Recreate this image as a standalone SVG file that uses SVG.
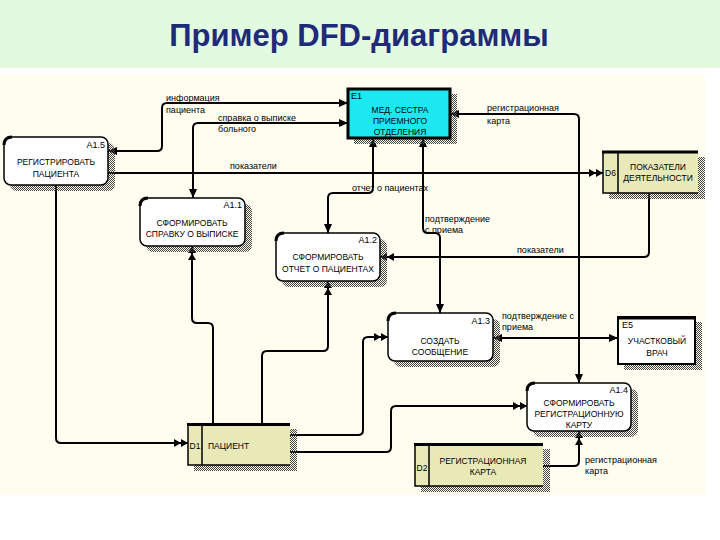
<svg xmlns="http://www.w3.org/2000/svg" width="720" height="540" viewBox="0 0 720 540">
<style>
.nl{font-family:"Liberation Sans",Arial,sans-serif;font-size:8.5px;fill:#000;text-anchor:middle}
.nls{font-family:"Liberation Sans",Arial,sans-serif;font-size:8.5px;fill:#000;text-anchor:start}
.id{font-family:"Liberation Sans",Arial,sans-serif;font-size:9px;fill:#000}
.idm{font-family:"Liberation Sans",Arial,sans-serif;font-size:8.5px;fill:#000;text-anchor:middle}
.lb{font-family:"Liberation Sans",Arial,sans-serif;font-size:9px;fill:#000}
.proc{fill:#fff;stroke:#000;stroke-width:1.5}
.sh{fill:url(#hatch)}
.store{fill:#e9e9b8;stroke:none}
.edge{stroke:#000;stroke-width:1.5;fill:none}
.thick{stroke:#000;stroke-width:3;fill:none}
.cn path{fill:none;stroke:#000;stroke-width:2}
.s1{marker-end:url(#a1)}
.s2{marker-end:url(#a2)}
.b1{marker-start:url(#a1);marker-end:url(#a1)}
</style>
<defs>
<pattern id="hatch" width="2" height="2" patternUnits="userSpaceOnUse">
<rect x="0" y="0" width="1" height="1" fill="#444"/>
<rect x="1" y="1" width="1" height="1" fill="#444"/>
</pattern>
<marker id="a1" markerUnits="userSpaceOnUse" markerWidth="10" markerHeight="8" refX="9" refY="4" orient="auto-start-reverse">
<path d="M0,0 L9,4 L0,8 z" fill="#000"/>
</marker>
<marker id="a2" markerUnits="userSpaceOnUse" markerWidth="15" markerHeight="8" refX="14" refY="4" orient="auto-start-reverse">
<path d="M0,0 L7,4 L0,8 z M7,0 L14,4 L7,8 z" fill="#000"/>
</marker>
</defs>
<rect x="0" y="0" width="720" height="540" fill="#fff"/>
<rect x="0" y="0" width="720" height="68" fill="#e2fbe0"/>
<text x="359" y="46" font-family="'Liberation Sans',Arial,sans-serif" font-size="31" font-weight="bold" fill="#1f2a78" text-anchor="middle">Пример DFD-диаграммы</text>
<rect x="0" y="74" width="705" height="421" fill="#fffdf0"/>

<g id="connectors" class="cn">
<path class="b1" d="M108,151 H157 Q162,151 162,146 V108 Q162,103 167,103 H348"/>
<path class="b1" d="M348,123 H198 Q193,123 193,128 V198"/>
<path class="s2" d="M108,173 H603"/>
<path class="s2" d="M56,185 V438 Q56,443 61,443 H188"/>
<path class="s2" d="M213,424 V328 Q213,323 208,323 H197 Q192,323 192,318 V246"/>
<path class="s2" d="M262,424 V356 Q262,351 267,351 H323 Q328,351 328,346 V281"/>
<path class="b1" d="M373,138 V188 Q373,193 368,193 H333 Q328,193 328,198 V233"/>
<path class="b1" d="M423,138 V228 Q423,233 428,233 H435 Q440,233 440,238 V313"/>
<path class="b1" d="M450,114 H574 Q579,114 579,119 V383"/>
<path class="s2" d="M649,193 V252 Q649,257 644,257 H380"/>
<path class="b1" d="M493,338 H618"/>
<path class="s2" d="M290,435 H358 Q363,435 363,430 V342 Q363,337 368,337 H388"/>
<path class="s2" d="M290,452 H386 Q391,452 391,447 V411 Q391,406 396,406 H527"/>
<path class="s2" d="M543,466 H574 Q579,466 579,461 V431"/>
<text class="lb" x="166" y="101">информация</text>
<text class="lb" x="166" y="113">пациента</text>
<text class="lb" x="218" y="121">справка о выписке</text>
<text class="lb" x="218" y="132">больного</text>
<text class="lb" x="230" y="169">показатели</text>
<text class="lb" x="487" y="111">регистрационная</text>
<text class="lb" x="487" y="124">карта</text>
<text class="lb" x="352" y="191">отчет о пациентах</text>
<text class="lb" x="425" y="222">подтверждение</text>
<text class="lb" x="425" y="233">с приема</text>
<text class="lb" x="517" y="253">показатели</text>
<text class="lb" x="502" y="319">подтверждение с</text>
<text class="lb" x="502" y="330">приема</text>
<text class="lb" x="585" y="463">регистрационная</text>
<text class="lb" x="585" y="474">карта</text>
</g>

<g id="E1">
<rect class="sh" x="354" y="94" width="103" height="50"/>
<rect x="348" y="89" width="102" height="49" fill="#1de8f2" stroke="#000" stroke-width="3"/>
<text class="id" x="351" y="99">E1</text>
<text class="nl" x="400" y="113">МЕД. СЕСТРА</text>
<text class="nl" x="400" y="124">ПРИЕМНОГО</text>
<text class="nl" x="400" y="135">ОТДЕЛЕНИЯ</text>
</g>

<g id="A1.5">
<rect class="sh" x="10" y="143" width="105" height="48" rx="7"/>
<rect class="proc" x="4" y="137" width="104" height="48" rx="7"/>
<path class="thick" d="M4,145 Q4,137 12,137"/>
<text class="id" x="105" y="148" text-anchor="end">A1.5</text>
<text class="nl" x="56" y="165">РЕГИСТРИРОВАТЬ</text>
<text class="nl" x="56" y="177">ПАЦИЕНТА</text>
</g>

<g id="A1.1">
<rect class="sh" x="146" y="204" width="106" height="48" rx="7"/>
<rect class="proc" x="140" y="198" width="105" height="48" rx="7"/>
<path class="thick" d="M140,206 Q140,198 148,198"/>
<text class="id" x="242" y="208" text-anchor="end">A1.1</text>
<text class="nl" x="192" y="226">СФОРМИРОВАТЬ</text>
<text class="nl" x="192" y="237">СПРАВКУ О ВЫПИСКЕ</text>
</g>

<g id="A1.2">
<rect class="sh" x="282" y="239" width="105" height="48" rx="7"/>
<rect class="proc" x="276" y="233" width="104" height="48" rx="7"/>
<path class="thick" d="M276,241 Q276,233 284,233"/>
<text class="id" x="377" y="243" text-anchor="end">A1.2</text>
<text class="nl" x="328" y="260">СФОРМИРОВАТЬ</text>
<text class="nl" x="328" y="272">ОТЧЕТ О ПАЦИЕНТАХ</text>
</g>

<g id="A1.3">
<rect class="sh" x="394" y="319" width="106" height="48" rx="7"/>
<rect class="proc" x="388" y="313" width="105" height="48" rx="7"/>
<path class="thick" d="M388,321 Q388,313 396,313"/>
<text class="id" x="490" y="324" text-anchor="end">A1.3</text>
<text class="nl" x="440" y="344">СОЗДАТЬ</text>
<text class="nl" x="440" y="355">СООБЩЕНИЕ</text>
</g>

<g id="A1.4">
<rect class="sh" x="533" y="389" width="105" height="48" rx="7"/>
<rect class="proc" x="527" y="383" width="104" height="48" rx="7"/>
<path class="thick" d="M527,391 Q527,383 535,383"/>
<text class="id" x="628" y="393" text-anchor="end">A1.4</text>
<text class="nl" x="579" y="406">СФОРМИРОВАТЬ</text>
<text class="nl" x="579" y="417">РЕГИСТРАЦИОННУЮ</text>
<text class="nl" x="579" y="428">КАРТУ</text>
</g>

<g id="E5">
<rect class="sh" x="624" y="322" width="78" height="48"/>
<rect x="618" y="317" width="77" height="47" fill="#fff" stroke="#000" stroke-width="2"/>
<path class="thick" d="M617,318 H696"/>
<text class="id" x="622" y="328">E5</text>
<text class="nl" x="657" y="344">УЧАСТКОВЫЙ</text>
<text class="nl" x="657" y="356">ВРАЧ</text>
</g>

<g id="D6">
<rect class="sh" x="609" y="157" width="96" height="42"/>
<rect class="store" x="603" y="152" width="95" height="41"/>
<path class="edge" d="M603,152 V193 H698 M618,152 V193"/>
<path class="thick" d="M602,152 H698"/>
<text class="idm" x="610.5" y="176">D6</text>
<text class="nl" x="658" y="170">ПОКАЗАТЕЛИ</text>
<text class="nl" x="658" y="181">ДЕЯТЕЛЬНОСТИ</text>
</g>

<g id="D1">
<rect class="sh" x="194" y="429" width="103" height="42"/>
<rect class="store" x="188" y="424" width="102" height="41"/>
<path class="edge" d="M188,424 V465 H290 M202,424 V465"/>
<path class="thick" d="M187,424.5 H290"/>
<text class="idm" x="195" y="449">D1</text>
<text class="nls" x="208" y="449">ПАЦИЕНТ</text>
</g>

<g id="D2">
<rect class="sh" x="421" y="449" width="129" height="43"/>
<rect class="store" x="415" y="444" width="128" height="42"/>
<path class="edge" d="M415,444 V486 H543 M429,444 V486"/>
<path class="thick" d="M414,444.5 H543"/>
<text class="idm" x="422" y="471">D2</text>
<text class="nl" x="483" y="464">РЕГИСТРАЦИОННАЯ</text>
<text class="nl" x="483" y="475">КАРТА</text>
</g>
</svg>
